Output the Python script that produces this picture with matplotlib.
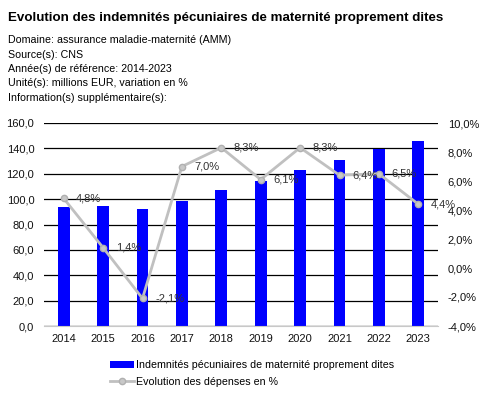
import matplotlib.pyplot as plt
import numpy as np
from matplotlib.ticker import FuncFormatter

plt.rcParams['font.family'] = ['Liberation Sans', 'DejaVu Sans']

years = ['2014', '2015', '2016', '2017', '2018', '2019', '2020', '2021', '2022', '2023']
montants = [93.4, 94.7, 92.3, 98.9, 107.3, 113.9, 123.1, 131.0, 139.7, 146.0]
evolution = [4.8, 1.4, -2.1, 7.0, 8.3, 6.1, 8.3, 6.4, 6.5, 4.4]
evo_labels = ['4,8%', '1,4%', '-2,1%', '7,0%', '8,3%', '6,1%', '8,3%', '6,4%', '6,5%', '4,4%']

fig = plt.figure(figsize=(4.81, 3.94), dpi=100)
W, H = 481, 394
ax = fig.add_axes([44 / W, 1 - 326 / H, (438 - 44) / W, (326 - 123) / H])

x = np.arange(len(years))
bars = ax.bar(x, montants, width=0.3, color='#0000ff', zorder=2,
              label='Indemnités pécuniaires de maternité proprement dites')
ax.set_ylim(0, 160)
ax.set_yticks(np.arange(0, 161, 20))
ax.yaxis.set_major_formatter(FuncFormatter(lambda v, p: f'{v:.1f}'.replace('.', ',')))
ax.set_xlim(-0.5, len(years) - 0.5)
ax.set_xticks(x)
ax.set_xticklabels(years)
ax.grid(axis='y', color='black', linewidth=0.9, zorder=0)
ax.set_axisbelow(True)
for s in ['top', 'left', 'right']:
    ax.spines[s].set_visible(False)
ax.spines['bottom'].set_color('#c8c8c8')
ax.tick_params(axis='both', length=0, labelsize=8, colors='#111111')
ax.tick_params(axis='y', pad=7)
ax.tick_params(axis='x', pad=6)

ax2 = ax.twinx()
line, = ax2.plot(x, evolution, color='#c0c0c0', linewidth=2, marker='o',
                 markersize=4.5, markerfacecolor='#c8c8c8', markeredgecolor='#b0b0b0',
                 label='Evolution des dépenses en %', zorder=3)
ax2.set_ylim(-4, 10)
ax2.set_yticks(np.arange(-4, 10.1, 2))
ax2.yaxis.set_major_formatter(FuncFormatter(lambda v, p: f'{v:.1f}%'.replace('.', ',')))
for s in ['top', 'left', 'right', 'bottom']:
    ax2.spines[s].set_visible(False)
ax2.tick_params(axis='y', length=0, labelsize=8, colors='#111111', pad=7)
for xi, yi, lab in zip(x, evolution, evo_labels):
    ax2.annotate(lab, (xi, yi), xytext=(9, 0), textcoords='offset points',
                 va='center', ha='left', fontsize=8, color='#333333')

fig.text(8 / W, 1 - 18 / H, 'Evolution des indemnités pécuniaires de maternité proprement dites',
         fontsize=9.6, fontweight='bold', va='center', ha='left')
info = ['Domaine: assurance maladie-maternité (AMM)', 'Source(s): CNS',
        'Année(s) de référence: 2014-2023', 'Unité(s): millions EUR, variation en %',
        'Information(s) supplémentaire(s):']
for i, t in enumerate(info):
    fig.text(8 / W, 1 - (40 + i * 14.5) / H, t, fontsize=7.7, va='center', ha='left')

fig.legend([bars, line], [bars.get_label(), line.get_label()], loc='upper left',
           bbox_to_anchor=(106 / W, 1 - 356 / H), frameon=False, fontsize=7.7,
           handlelength=2.2, handletextpad=0.2, labelspacing=0.65, borderaxespad=0)

fig.savefig('out.png', dpi=100)
